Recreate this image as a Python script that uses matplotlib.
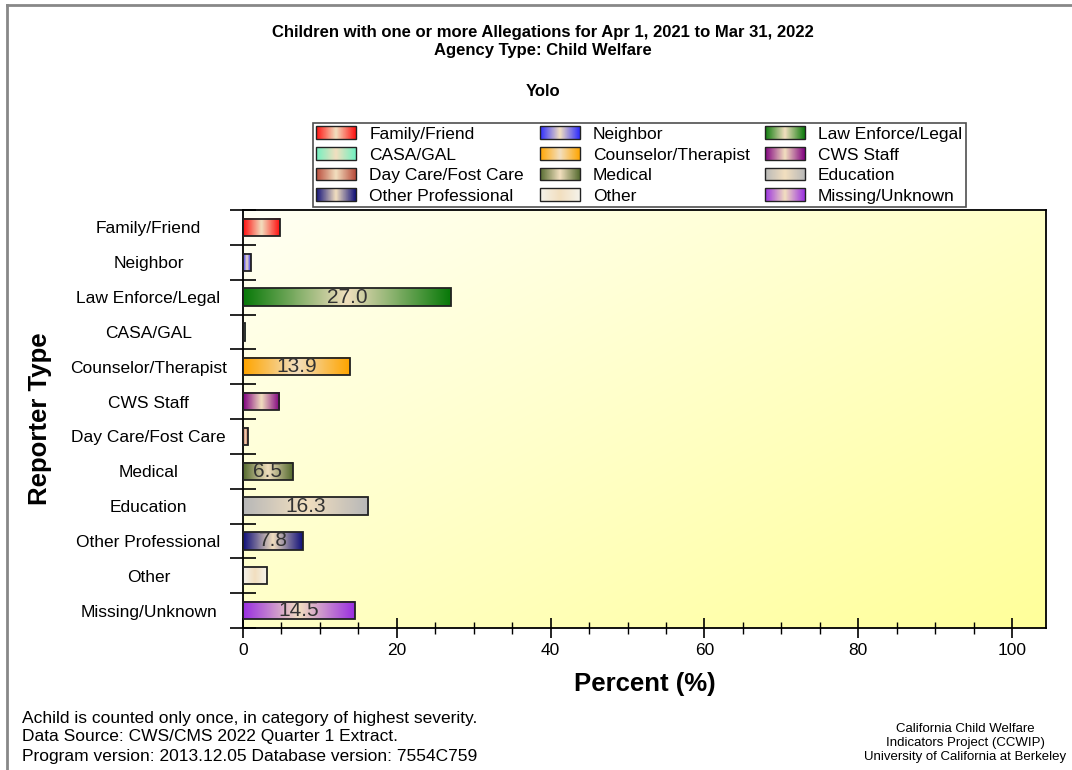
import numpy as np
import matplotlib
matplotlib.use("Agg")
import matplotlib.pyplot as plt
from matplotlib.colors import LinearSegmentedColormap, to_rgb
from matplotlib.patches import Rectangle
from matplotlib.legend_handler import HandlerBase
from matplotlib.ticker import MultipleLocator, FixedLocator, NullFormatter
from matplotlib.lines import Line2D

plt.rcParams['font.family'] = ['Liberation Sans', 'DejaVu Sans']

# reporter types, top to bottom
categories = ['Family/Friend', 'Neighbor', 'Law Enforce/Legal', 'CASA/GAL',
              'Counselor/Therapist', 'CWS Staff', 'Day Care/Fost Care', 'Medical',
              'Education', 'Other Professional', 'Other', 'Missing/Unknown']
percent = [4.8, 1.0, 27.0, 0.3, 13.9, 4.7, 0.6, 6.5, 16.3, 7.8, 3.1, 14.5]
colors = ['#ff1010', '#2a2aff', '#0a7a0a', '#70f0c0', '#ffa500', '#800080',
          '#b84a3a', '#556b2f', '#b8b8b8', '#10107a', '#f4f2ea', '#9a30e0']
labelled = [False, False, True, False, True, False, False, True, True, True, False, True]

title_lines = ['Children with one or more Allegations for Apr 1, 2021 to Mar 31, 2022',
               'Agency Type: Child Welfare']
county = 'Yolo'
notes = ['Achild is counted only once, in category of highest severity.',
         'Data Source: CWS/CMS 2022 Quarter 1 Extract.',
         'Program version: 2013.12.05 Database version: 7554C759']
credit = ['California Child Welfare', 'Indicators Project (CCWIP)',
          'University of California at Berkeley']

SHINE = '#f2dfbf'


def bar_rgb(c, n=64):
    cmap = LinearSegmentedColormap.from_list('g', [c, SHINE, c])
    return cmap(np.linspace(0, 1, n))[None, :, :3]


class GradientHandler(HandlerBase):
    def create_artists(self, legend, orig_handle, xdescent, ydescent,
                       width, height, fontsize, trans):
        c = orig_handle.get_facecolor()
        cmap = LinearSegmentedColormap.from_list('g', [c, SHINE, c])
        n = 40
        arts = []
        for k in range(n):
            r = Rectangle((-xdescent + width * k / n, -ydescent), width / n * 1.5, height,
                          facecolor=cmap((k + 0.5) / n), edgecolor='none',
                          transform=trans)
            arts.append(r)
        arts.append(Rectangle((-xdescent, -ydescent), width, height, facecolor='none',
                              edgecolor='#222222', lw=1.0, transform=trans))
        return arts


fig = plt.figure(figsize=(10.72, 7.70), dpi=100)
ax = fig.add_axes([243 / 1072, 1 - 628 / 770, (1046 - 243) / 1072, (628 - 210) / 770])

# yellow backdrop across the plotting area
gx, gy = np.meshgrid(np.linspace(0, 1, 200), np.linspace(0, 1, 200))
t = np.clip((gx + gy) / 2, 0, 1)[..., None]
top_left = np.array(to_rgb('#fffff4'))
bot_right = np.array(to_rgb('#ffff9a'))
bg = top_left * (1 - t) + bot_right * t
ax.imshow(bg, extent=(0, 1, 0, 1), transform=ax.transAxes, aspect='auto',
          origin='upper', zorder=0, interpolation='bilinear')

n = len(categories)
ypos = np.arange(n)
h = 0.5
for y, v, c, lab in zip(ypos, percent, colors, labelled):
    ax.imshow(bar_rgb(c), extent=(0, v, y + h / 2, y - h / 2), aspect='auto',
              interpolation='bilinear', zorder=2)
    if lab:
        ax.text(v / 2, y, f'{v:.1f}', ha='center', va='center', fontsize=15,
                color='#333333', zorder=4)
ax.barh(ypos, percent, height=h, facecolor='none', edgecolor='#222222', lw=1.3, zorder=3)

ax.set_xlim(0, 104.4)
ax.set_ylim(n - 0.5, -0.5)
ax.set_aspect('auto')

ax.xaxis.set_major_locator(MultipleLocator(20))
ax.xaxis.set_minor_locator(MultipleLocator(5))
ax.tick_params(axis='x', which='major', direction='inout', length=14, width=1.2,
               labelsize=12.5, pad=4)
ax.tick_params(axis='x', which='minor', direction='inout', length=9, width=1.0)

ax.yaxis.set_major_locator(FixedLocator(np.arange(-0.5, n, 1.0)))
ax.yaxis.set_major_formatter(NullFormatter())
ax.yaxis.set_minor_locator(FixedLocator(ypos))
ax.set_yticklabels(categories, minor=True)
ax.tick_params(axis='y', which='major', direction='inout', length=19, width=1.2)
ax.tick_params(axis='y', which='minor', length=0, pad=68, labelsize=12.5)
for lbl in ax.get_yticklabels(minor=True):
    lbl.set_horizontalalignment('center')

for s in ax.spines.values():
    s.set_linewidth(1.3)

ax.set_xlabel('Percent (%)', fontsize=18.5, fontweight='bold', labelpad=10)
fig.text(40 / 1072, 1 - 419 / 770, 'Reporter Type', rotation=90, fontsize=18.5,
         fontweight='bold', ha='center', va='center')

# titles
fig.text(543 / 1072, 1 - 33 / 770, title_lines[0], ha='center', va='center',
         fontsize=12, fontweight='bold')
fig.text(543 / 1072, 1 - 51 / 770, title_lines[1], ha='center', va='center',
         fontsize=12, fontweight='bold')
fig.text(543 / 1072, 1 - 92 / 770, county, ha='center', va='center',
         fontsize=12, fontweight='bold')

# legend, filled row by row
proxies = [Rectangle((0, 0), 1, 1, facecolor=c) for c in colors]
order = [r * 3 + col for col in range(3) for r in range(4)]
leg = fig.legend([proxies[i] for i in order], [categories[i] for i in order],
                 handler_map={Rectangle: GradientHandler()}, ncol=3,
                 loc='upper left', bbox_to_anchor=(313 / 1072, 1 - 123 / 770),
                 fontsize=12.5, frameon=True, fancybox=False, edgecolor='#222222',
                 handlelength=2.3, handleheight=0.75, handletextpad=0.75,
                 columnspacing=0.9, labelspacing=0.3, borderpad=0.2,
                 borderaxespad=0)
leg.get_frame().set_linewidth(1.2)

# footnotes
for k, line in enumerate(notes):
    fig.text(22 / 1072, 1 - (718 + k * 19) / 770, line, ha='left', va='center',
             fontsize=12.5)
for k, line in enumerate(credit):
    fig.text(965 / 1072, 1 - (729 + k * 14) / 770, line, ha='center', va='center',
             fontsize=9.5)

# panel frame on the top and left edges
fig.add_artist(Line2D([7 / 1072, 1], [1 - 5 / 770, 1 - 5 / 770], color='#888888', lw=2,
                      transform=fig.transFigure))
fig.add_artist(Line2D([7 / 1072, 7 / 1072], [0, 1 - 5 / 770], color='#888888', lw=2,
                      transform=fig.transFigure))

fig.savefig('out.png', dpi=100)
